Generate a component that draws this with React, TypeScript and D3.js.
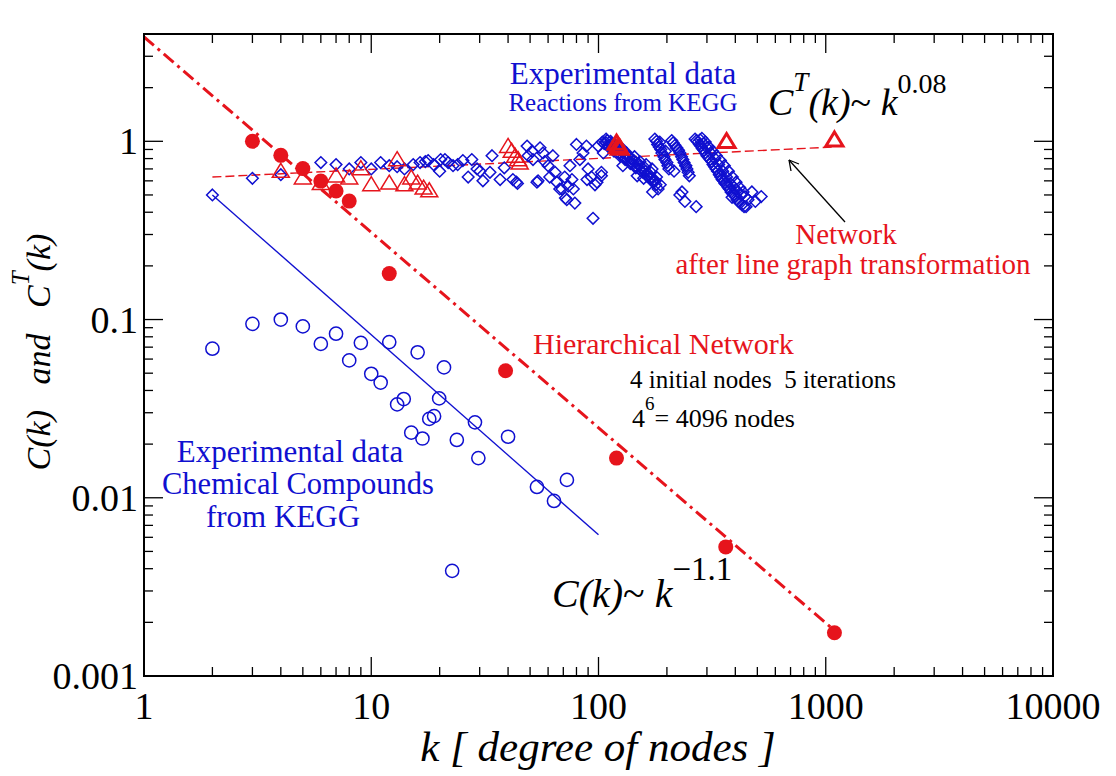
import React from 'react';
import * as d3 from 'd3';

// ---------- data ----------
const HIER_K = [3, 4, 5, 6, 7, 8, 12, 39, 120, 363, 1092];
const HIER_C = [1.0, 0.834, 0.703, 0.598, 0.526, 0.462, 0.181, 0.0516, 0.0167, 0.0053, 0.00175];

const LINEGRAPH_K = [4, 5, 6, 7, 8, 9, 10, 12, 13, 14, 15, 16, 17, 18, 40, 41.5, 43, 44.3, 45, 120, 122, 124, 366, 1092];
const LINEGRAPH_C = [0.667, 0.612, 0.57, 0.628, 0.612, 0.69, 0.561, 0.573, 0.775, 0.561, 0.612, 0.573, 0.537, 0.519, 0.92, 0.864, 0.81, 0.775, 0.742, 0.96, 0.92, 0.9, 0.98, 1.0];

const CHEM_K = [2, 3, 4, 5, 6, 7, 8, 9, 10, 11, 12, 13, 13.9, 15, 16, 16.8, 18, 18.9, 19.9, 20.9, 23.8, 22.7, 28.6, 29.6, 40, 53.6, 63.7, 72.6];
const CHEM_C = [0.0686, 0.0946, 0.1, 0.0915, 0.073, 0.0833, 0.059, 0.074, 0.0496, 0.0443, 0.0747, 0.0334, 0.0358, 0.0232, 0.0655, 0.0215, 0.0277, 0.0287, 0.0361, 0.0539, 0.0211, 0.00389, 0.0265, 0.0167, 0.022, 0.0115, 0.0096, 0.0126];

const REACT_K = [
  2, 3, 4, 6, 7, 8, 9, 10, 11, 12, 13, 14, 15.3, 16.4, 17.3, 17.8, 18.8, 20, 20.2, 21.1, 21.8, 22.9, 24, 25.3, 26.7, 27.7, 29.2, 30.1, 31, 33.3, 34, 36.9, 38.5, 42, 43.5, 44,
  48.5, 49, 51, 51.5, 53.6, 54.2, 55.3, 57, 58, 60, 61, 63, 64.4, 65.5, 67.5, 69, 71, 71.5, 73.6, 74.9, 77.5, 78.7, 80, 82.8, 85.5, 88.5, 90, 93, 94.6, 96.5, 99.7, 103, 105, 108, 72.5, 76.4, 89, 98.5,
  104, 108, 110, 115, 117, 121, 124, 127, 131, 135, 138, 141, 146, 150, 155, 160, 165, 170, 175, 180, 183, 187, 113, 119, 126, 133, 144, 152, 162, 172, 103, 148, 173, 128, 158,
  106, 112, 118, 123, 129, 134, 140, 145, 151, 157, 163, 168, 174, 179,
  109, 114, 120, 125, 131, 137, 143, 149, 155, 161, 167, 172, 178,
  177, 182, 188, 194, 200, 204, 210, 217, 225, 232, 238, 245, 251, 215, 228, 240, 269, 233, 186, 197, 221, 242,
  180, 185, 190, 196, 202, 213, 220, 228, 235, 242, 248,
  266, 274, 282, 291, 300, 310, 319, 329, 340, 350, 360, 372, 383, 395, 407, 420, 437, 280, 290, 300, 312, 325, 338, 352, 366, 380, 395, 410, 425, 387, 446, 520, 473, 441, 455, 490,
  270, 278, 286, 295, 305, 315, 324, 334, 345, 355, 366, 377, 389, 401, 413, 428,
  285, 295, 306, 318, 330, 344, 358, 373, 388, 403, 418, 433
];
const REACT_C = [
  0.5, 0.62, 0.65, 0.76, 0.74, 0.7, 0.76, 0.7, 0.76, 0.73, 0.72, 0.7, 0.74, 0.76, 0.77, 0.78, 0.74, 0.68, 0.79, 0.79, 0.76, 0.73, 0.74, 0.78, 0.63, 0.79, 0.7, 0.68, 0.6, 0.67, 0.83, 0.61, 0.71, 0.61, 0.59, 0.58,
  0.94, 0.83, 0.88, 0.79, 0.59, 0.6, 0.92, 0.86, 0.77, 0.73, 0.63, 0.83, 0.67, 0.59, 0.54, 0.54, 0.63, 0.48, 0.56, 0.73, 0.54, 0.45, 0.96, 0.79, 0.86, 0.94, 0.7, 0.63, 0.37, 0.57, 0.94, 0.67, 0.86, 0.98, 0.47, 0.61, 0.61, 0.59,
  0.99, 1.03, 0.94, 0.96, 0.88, 0.91, 0.83, 0.88, 0.79, 0.83, 0.75, 0.79, 0.71, 0.75, 0.68, 0.71, 0.64, 0.67, 0.6, 0.63, 0.54, 0.57, 1.0, 0.95, 0.92, 0.86, 0.82, 0.77, 0.74, 0.7, 0.64, 0.64, 0.52, 0.73, 0.62,
  0.97, 0.93, 0.9, 0.86, 0.82, 0.79, 0.76, 0.73, 0.7, 0.67, 0.64, 0.62, 0.59, 0.57,
  1.01, 0.97, 0.93, 0.89, 0.85, 0.81, 0.78, 0.74, 0.71, 0.68, 0.65, 0.62, 0.6,
  1.03, 0.96, 0.9, 0.82, 0.76, 0.7, 1.01, 0.95, 0.89, 0.82, 0.76, 0.7, 0.64, 0.68, 0.5, 0.46, 0.43, 0.52, 0.99, 0.88, 0.92, 0.73,
  1.0, 0.93, 0.86, 0.79, 0.73, 0.98, 0.92, 0.86, 0.79, 0.73, 0.67,
  1.03, 0.99, 0.94, 0.89, 0.83, 0.79, 0.74, 0.7, 0.65, 0.61, 0.58, 0.55, 0.52, 0.5, 0.47, 0.45, 0.43, 1.02, 0.97, 0.92, 0.86, 0.8, 0.74, 0.68, 0.63, 0.58, 0.55, 0.52, 0.5, 0.485, 0.43, 0.49, 0.52, 0.49, 0.47, 0.46,
  1.01, 0.96, 0.91, 0.86, 0.81, 0.77, 0.72, 0.68, 0.63, 0.6, 0.57, 0.54, 0.51, 0.49, 0.46, 0.44,
  1.04, 0.99, 0.93, 0.88, 0.83, 0.78, 0.73, 0.68, 0.63, 0.59, 0.55, 0.52
];

// fit lines (endpoints)
const HIER_FIT_K = [1, 1092];
const HIER_FIT_C = [3.85, 0.0018];
const LG_FIT_K = [2, 1100];
const LG_FIT_C = [0.63, 0.93];
const CHEM_FIT_K = [2, 100];
const CHEM_FIT_C = [0.5, 0.0062];

const X_TICKS = [1, 10, 100, 1000, 10000];
const X_TICK_LABELS = ['1', '10', '100', '1000', '10000'];
const Y_TICKS = [0.001, 0.01, 0.1, 1];
const Y_TICK_LABELS = ['0.001', '0.01', '0.1', '1'];

// ---------- layout ----------
const L = 144, R = 1053, T = 34, B = 676;
const RED = '#e6141c';
const BLUE = '#1010d0';
const SERIF = { fontFamily: "'Liberation Serif'" };

const x = d3.scaleLog().domain([1, 10000]).range([L, R]);
const y = d3.scaleLog().domain([0.001, 4]).range([B, T]);

function minorTicks(lo: number, hi: number) {
  const out: number[] = [];
  for (let d = lo; d < hi; d *= 10) {
    for (let m = 2; m <= 9; m++) {
      const v = d * m;
      if (v < hi) out.push(v);
    }
  }
  return out;
}

const xMinor = minorTicks(1, 10000);
const yMinor = minorTicks(0.001, 4).filter(v => v < 3.99);

export default function App() {
  const line = d3.line<[number, number]>().x(d => x(d[0])).y(d => y(d[1]));
  const pts = (ks: number[], cs: number[]) => ks.map((k, i) => [k, cs[i]] as [number, number]);
  const diamond = (r: number) => `M0,${-r}L${r},0L0,${r}L${-r},0Z`;
  const tri = (b: number, h: number) => `M0,${-h * 2 / 3}L${b / 2},${h / 3}L${-b / 2},${h / 3}Z`;

  const major = 19, minor = 9;

  // the svg sits at the body's 8px margin; shift the content back so page coords match
  return (
    <svg width={1108} height={768}>
      <g transform="translate(-8,-8)">
        <defs>
          <clipPath id="plot">
            <rect x={L} y={T} width={R - L} height={B - T} />
          </clipPath>
        </defs>

        {/* ticks */}
        <g stroke="#000" strokeWidth={1.3}>
          {X_TICKS.map(v => (
            <g key={'xm' + v}>
              <line x1={x(v)} x2={x(v)} y1={B} y2={B - major} />
              <line x1={x(v)} x2={x(v)} y1={T} y2={T + major} />
            </g>
          ))}
          {xMinor.map(v => (
            <g key={'xn' + v}>
              <line x1={x(v)} x2={x(v)} y1={B} y2={B - minor} />
              <line x1={x(v)} x2={x(v)} y1={T} y2={T + minor} />
            </g>
          ))}
          {Y_TICKS.map(v => (
            <g key={'ym' + v}>
              <line x1={L} x2={L + major} y1={y(v)} y2={y(v)} />
              <line x1={R} x2={R - major} y1={y(v)} y2={y(v)} />
            </g>
          ))}
          {yMinor.map(v => (
            <g key={'yn' + v}>
              <line x1={L} x2={L + minor} y1={y(v)} y2={y(v)} />
              <line x1={R} x2={R - minor} y1={y(v)} y2={y(v)} />
            </g>
          ))}
        </g>

        {/* tick labels */}
        {X_TICKS.map((v, i) => (
          <text key={'xl' + v} x={x(v)} y={B + 43} textAnchor="middle" style={SERIF} fontSize={38}>{X_TICK_LABELS[i]}</text>
        ))}
        {Y_TICKS.map((v, i) => (
          <text key={'yl' + v} x={L - 6} y={y(v) + 13} textAnchor="end" style={SERIF} fontSize={38}>{Y_TICK_LABELS[i]}</text>
        ))}

        <g clipPath="url(#plot)">
          {/* fit lines */}
          <path d={line(pts(HIER_FIT_K, HIER_FIT_C)) || ''} fill="none" stroke={RED} strokeWidth={3} strokeDasharray="13,5,3,5" />
          <path d={line(pts(LG_FIT_K, LG_FIT_C)) || ''} fill="none" stroke={RED} strokeWidth={1.4} strokeDasharray="9,4" />
          <path d={line(pts(CHEM_FIT_K, CHEM_FIT_C)) || ''} fill="none" stroke={BLUE} strokeWidth={1.4} />

          {/* reactions (diamonds) */}
          {pts(REACT_K, REACT_C).map((p, i) => (
            <path key={'d' + i} d={diamond(5.8)} transform={`translate(${x(p[0])},${y(p[1])})`} fill="none" stroke={BLUE} strokeWidth={1.5} />
          ))}

          {/* chemical compounds (open circles) */}
          {pts(CHEM_K, CHEM_C).map((p, i) => (
            <circle key={'c' + i} cx={x(p[0])} cy={y(p[1])} r={6.6} fill="none" stroke={BLUE} strokeWidth={1.5} />
          ))}

          {/* line graph (triangles) */}
          {pts(LINEGRAPH_K, LINEGRAPH_C).map((p, i) => (
            <path key={'t' + i} d={tri(17, 14)} transform={`translate(${x(p[0])},${y(p[1])})`} fill="none" stroke={RED} strokeWidth={p[0] >= 100 ? 3 : 1.5} />
          ))}

          {/* hierarchical (filled circles) */}
          {pts(HIER_K, HIER_C).map((p, i) => (
            <circle key={'h' + i} cx={x(p[0])} cy={y(p[1])} r={7.5} fill={RED} />
          ))}
        </g>

        {/* frame */}
        <rect x={L} y={T} width={R - L} height={B - T} fill="none" stroke="#000" strokeWidth={2} />

        {/* annotations */}
        <text x={623} y={84} textAnchor="middle" style={SERIF} fontSize={31} fill={BLUE}>Experimental data</text>
        <text x={623} y={111} textAnchor="middle" style={SERIF} fontSize={25} fill={BLUE}>Reactions from KEGG</text>

        <text x={768} y={115} style={SERIF} fontSize={38} fill="#000">
          <tspan fontStyle="italic">C</tspan>
          <tspan fontStyle="italic" fontSize={27} dy={-24}>T</tspan>
          <tspan fontStyle="italic" dy={24}>(k)</tspan>
          <tspan>~ </tspan>
          <tspan fontStyle="italic">k</tspan>
          <tspan fontSize={28} dy={-22}>0.08</tspan>
        </text>

        <text x={846} y={244} textAnchor="middle" style={SERIF} fontSize={29} fill={RED}>Network</text>
        <text x={853} y={274} textAnchor="middle" style={SERIF} fontSize={29} fill={RED}>after line graph transformation</text>

        <text x={533} y={354} style={SERIF} fontSize={30} fill={RED}>Hierarchical Network</text>
        <text x={630} y={388} style={SERIF} fontSize={25} fill="#000">4 initial nodes&#160; 5 iterations</text>
        <text x={632} y={427} style={SERIF} fontSize={26} fill="#000">
          <tspan>4</tspan>
          <tspan fontSize={19} dy={-17}>6</tspan>
          <tspan dy={17}>= 4096 nodes</tspan>
        </text>

        <text x={290} y={462} textAnchor="middle" style={SERIF} fontSize={31} fill={BLUE}>Experimental data</text>
        <text x={298} y={494} textAnchor="middle" style={SERIF} fontSize={30.5} fill={BLUE}>Chemical Compounds</text>
        <text x={283} y={527} textAnchor="middle" style={SERIF} fontSize={31} fill={BLUE}>from KEGG</text>

        <text x={552} y={607} style={SERIF} fontSize={40} fill="#000">
          <tspan fontStyle="italic">C(k)</tspan>
          <tspan>~ </tspan>
          <tspan fontStyle="italic">k</tspan>
          <tspan fontSize={33} dy={-27}>−1.1</tspan>
        </text>

        {/* axis titles */}
        <text x={598} y={761} textAnchor="middle" style={SERIF} fontSize={43} fontStyle="italic" fill="#000">k [ degree of nodes ]</text>
        <text transform="translate(50,352) rotate(-90)" textAnchor="middle" style={SERIF} fontSize={34} fontStyle="italic" fill="#000">
          <tspan>C(k)&#160;&#160; and &#160;&#160;C</tspan>
          <tspan fontSize={25} dy={-21}>T</tspan>
          <tspan dy={21}>(k)</tspan>
        </text>

        {/* arrow */}
        <g stroke="#000" strokeWidth={1.3} fill="none">
          <line x1={845} y1={222} x2={789} y2={160} />
          <path d="M789,160 L791,171 M789,160 L799,164" />
        </g>
      </g>
    </svg>
  );
}
